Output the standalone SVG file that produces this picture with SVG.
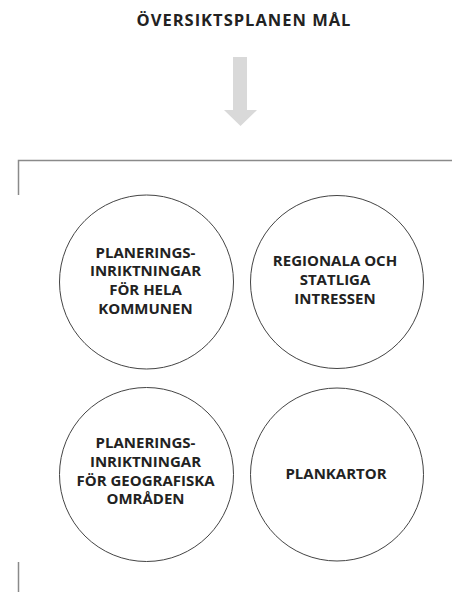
<svg xmlns="http://www.w3.org/2000/svg" width="452" height="592" viewBox="0 0 452 592">
<style>
.t{font-family:"Open Sans","Liberation Sans",sans-serif;font-weight:bold;font-size:15px;fill:#222;text-anchor:middle}
.c{fill:#fff;stroke:#444;stroke-width:1}
.f{stroke:#8a8a8a;stroke-width:1.5;fill:none}
</style>
<rect width="452" height="592" fill="#fff"/>
<g id="title"><text class="t" x="244" y="26" style="font-size:16.5px;letter-spacing:1px">ÖVERSIKTSPLANEN MÅL</text></g>
<g id="connectors">
<polygon points="233,57 247,57 247,110 257,110 240.5,126 224,110 233,110" fill="#d9d9d9"/>
</g>
<g id="frame">
<path class="f" d="M452,160.5 H18.5 V195"/>
<path class="f" d="M18.5,562 V592"/>
</g>
<g id="node1"><circle class="c" cx="146.5" cy="282" r="87"/>
<text class="t"><tspan x="145.5" y="257.6">PLANERINGS-</tspan><tspan x="145.5" y="276.3">INRIKTNINGAR</tspan><tspan x="145.5" y="295">FÖR HELA</tspan><tspan x="145.5" y="313.7">KOMMUNEN</tspan></text></g>
<g id="node2"><circle class="c" cx="337" cy="282" r="86.5"/>
<text class="t"><tspan x="335" y="266.3">REGIONALA OCH</tspan><tspan x="335" y="285">STATLIGA</tspan><tspan x="335" y="303.7">INTRESSEN</tspan></text></g>
<g id="node3"><circle class="c" cx="146.5" cy="474.5" r="87"/>
<text class="t"><tspan x="145.5" y="448.3">PLANERINGS-</tspan><tspan x="145.5" y="467">INRIKTNINGAR</tspan><tspan x="145.5" y="485.7">FÖR GEOGRAFISKA</tspan><tspan x="145.5" y="504.4">OMRÅDEN</tspan></text></g>
<g id="node4"><circle class="c" cx="337" cy="474.5" r="86.5"/>
<text class="t" x="336" y="479.3">PLANKARTOR</text></g>
</svg>
